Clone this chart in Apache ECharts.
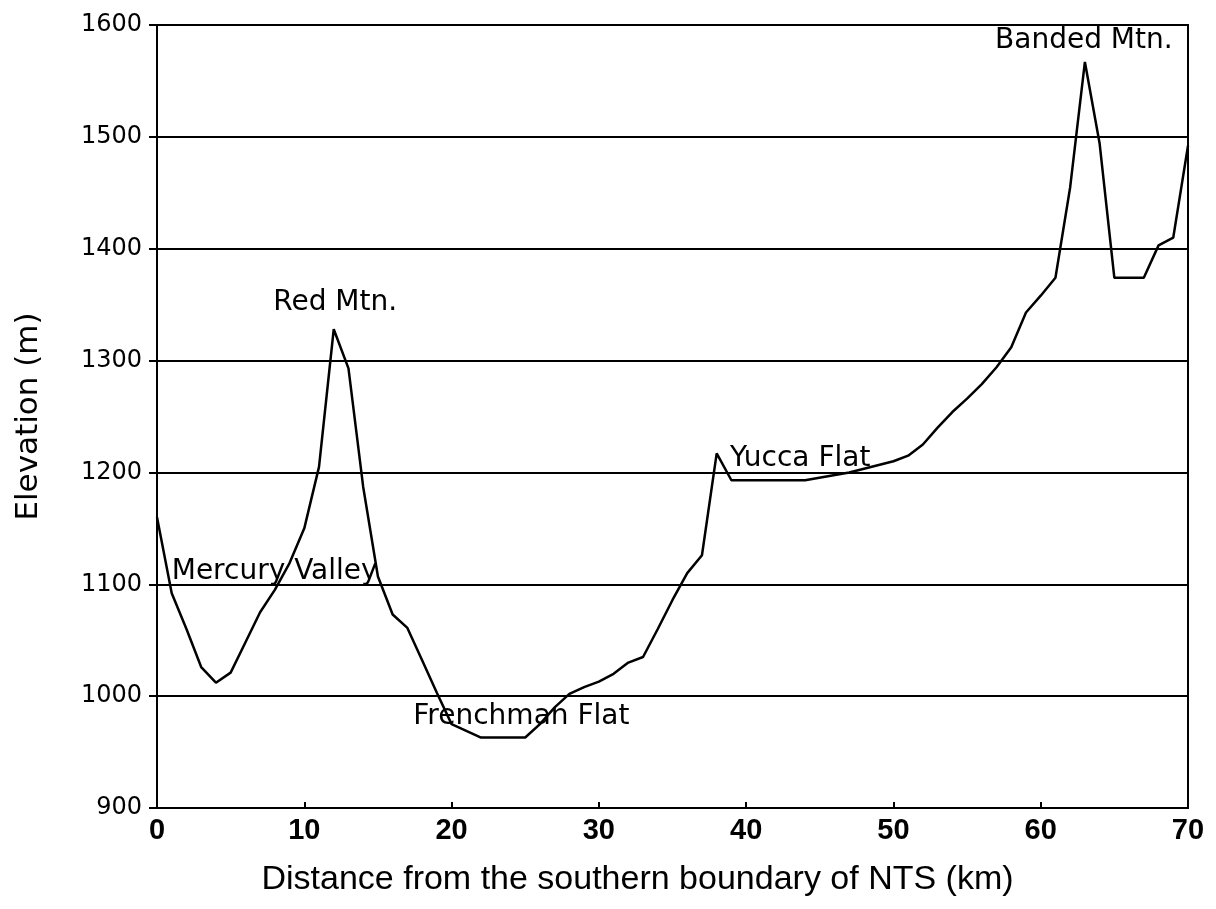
<!DOCTYPE html>
<html>
<head>
<meta charset="utf-8">
<script src="https://cdn.jsdelivr.net/npm/echarts@6/dist/echarts.min.js"></script>
<style>
  html, body { margin: 0; padding: 0; background: #fff; }
  #chart { width: 1216px; height: 909px; }
</style>
</head>
<body>
<div id="chart"></div>
<script>
// profile along the transect
const distanceKm = [0, 1, 2, 3, 4, 5, 6, 7, 8, 9, 10, 11, 12, 13, 14, 15, 16, 17, 18, 19, 20, 22, 25, 26, 27, 28, 29, 30, 31, 32, 33, 34, 35, 36, 37, 38, 39, 44, 47, 50, 51, 52, 53, 54, 55, 56, 57, 58, 59, 60, 61, 62, 63, 64, 65, 67, 68, 69, 70];
const elevationM = [1160, 1092, 1060, 1026, 1012, 1021, 1048, 1075, 1095, 1119, 1150, 1205, 1328, 1293, 1187, 1107, 1073, 1061, 1032, 1003, 975, 963, 963, 975, 990, 1002, 1008, 1013, 1020, 1030, 1035, 1060, 1086, 1110, 1126, 1217, 1193, 1193, 1200, 1210, 1215, 1225, 1240, 1254, 1266, 1279, 1294, 1312, 1343, 1358, 1374, 1455, 1567, 1494, 1374, 1374, 1403, 1410, 1492];

// place names
const placeNames = ["Red Mtn.", "Mercury Valley", "Frenchman Flat", "Yucca Flat", "Banded Mtn."];
const placeX = [12.1, 1.0, 17.4, 38.9, 56.9];
const placeY = [1352, 1111, 982, 1212, 1586];
const placeAlign = ["center", "left", "left", "left", "left"];

const chart = echarts.init(document.getElementById("chart"));
const font = "Liberation Sans, Arial, sans-serif";
const narrowFont = "Liberation Sans Narrow, Arial Narrow, Liberation Sans, sans-serif";
const wideFont = "DejaVu Sans, sans-serif";

const option = {
  animation: false,
  grid: {
    left: 157,
    right: 28,
    top: 25,
    bottom: 101,
    show: true,
    borderColor: "#000",
    borderWidth: 2,
  },
  xAxis: {
    type: "value",
    min: 0,
    max: 70,
    interval: 10,
    name: "Distance from the southern boundary of NTS (km)",
    nameLocation: "middle",
    nameGap: 55,
    nameTextStyle: { color: "#000", fontSize: 34, fontFamily: font, padding: [0, 70, 0, 0] },
    axisLine: { lineStyle: { color: "#000", width: 2 } },
    axisTick: { inside: true, length: 6, lineStyle: { color: "#000", width: 2 } },
    axisLabel: { color: "#000", fontSize: 29, fontWeight: "bold", fontFamily: narrowFont, margin: 8 },
    splitLine: { show: false },
  },
  yAxis: {
    type: "value",
    min: 900,
    max: 1600,
    interval: 100,
    name: "Elevation (m)",
    nameLocation: "middle",
    nameGap: 113,
    nameTextStyle: { color: "#000", fontSize: 31, fontFamily: wideFont },
    axisLine: { show: true, lineStyle: { color: "#000", width: 2 } },
    axisTick: { show: true, length: 8, lineStyle: { color: "#000", width: 2 } },
    axisLabel: {
      color: "#000",
      fontSize: 24,
      fontFamily: wideFont,
      margin: 15,
      formatter: (v) => String(v),
    },
    splitLine: { show: true, lineStyle: { color: "#000", width: 2 } },
  },
  series: [
    {
      type: "line",
      data: distanceKm.map((d, i) => [d, elevationM[i]]),
      showSymbol: false,
      lineStyle: { color: "#000", width: 2.5 },
      markPoint: {
        symbol: "circle",
        symbolSize: 0,
        label: {
          show: true,
          formatter: (p) => p.name,
          color: "#000",
          fontSize: 28,
          fontFamily: wideFont,
          position: "inside",
        },
        data: placeNames.map((n, i) => ({
          name: n,
          coord: [placeX[i], placeY[i]],
          label: { align: placeAlign[i], verticalAlign: "middle" },
        })),
      },
    },
  ],
};

chart.setOption(option);
</script>
</body>
</html>
